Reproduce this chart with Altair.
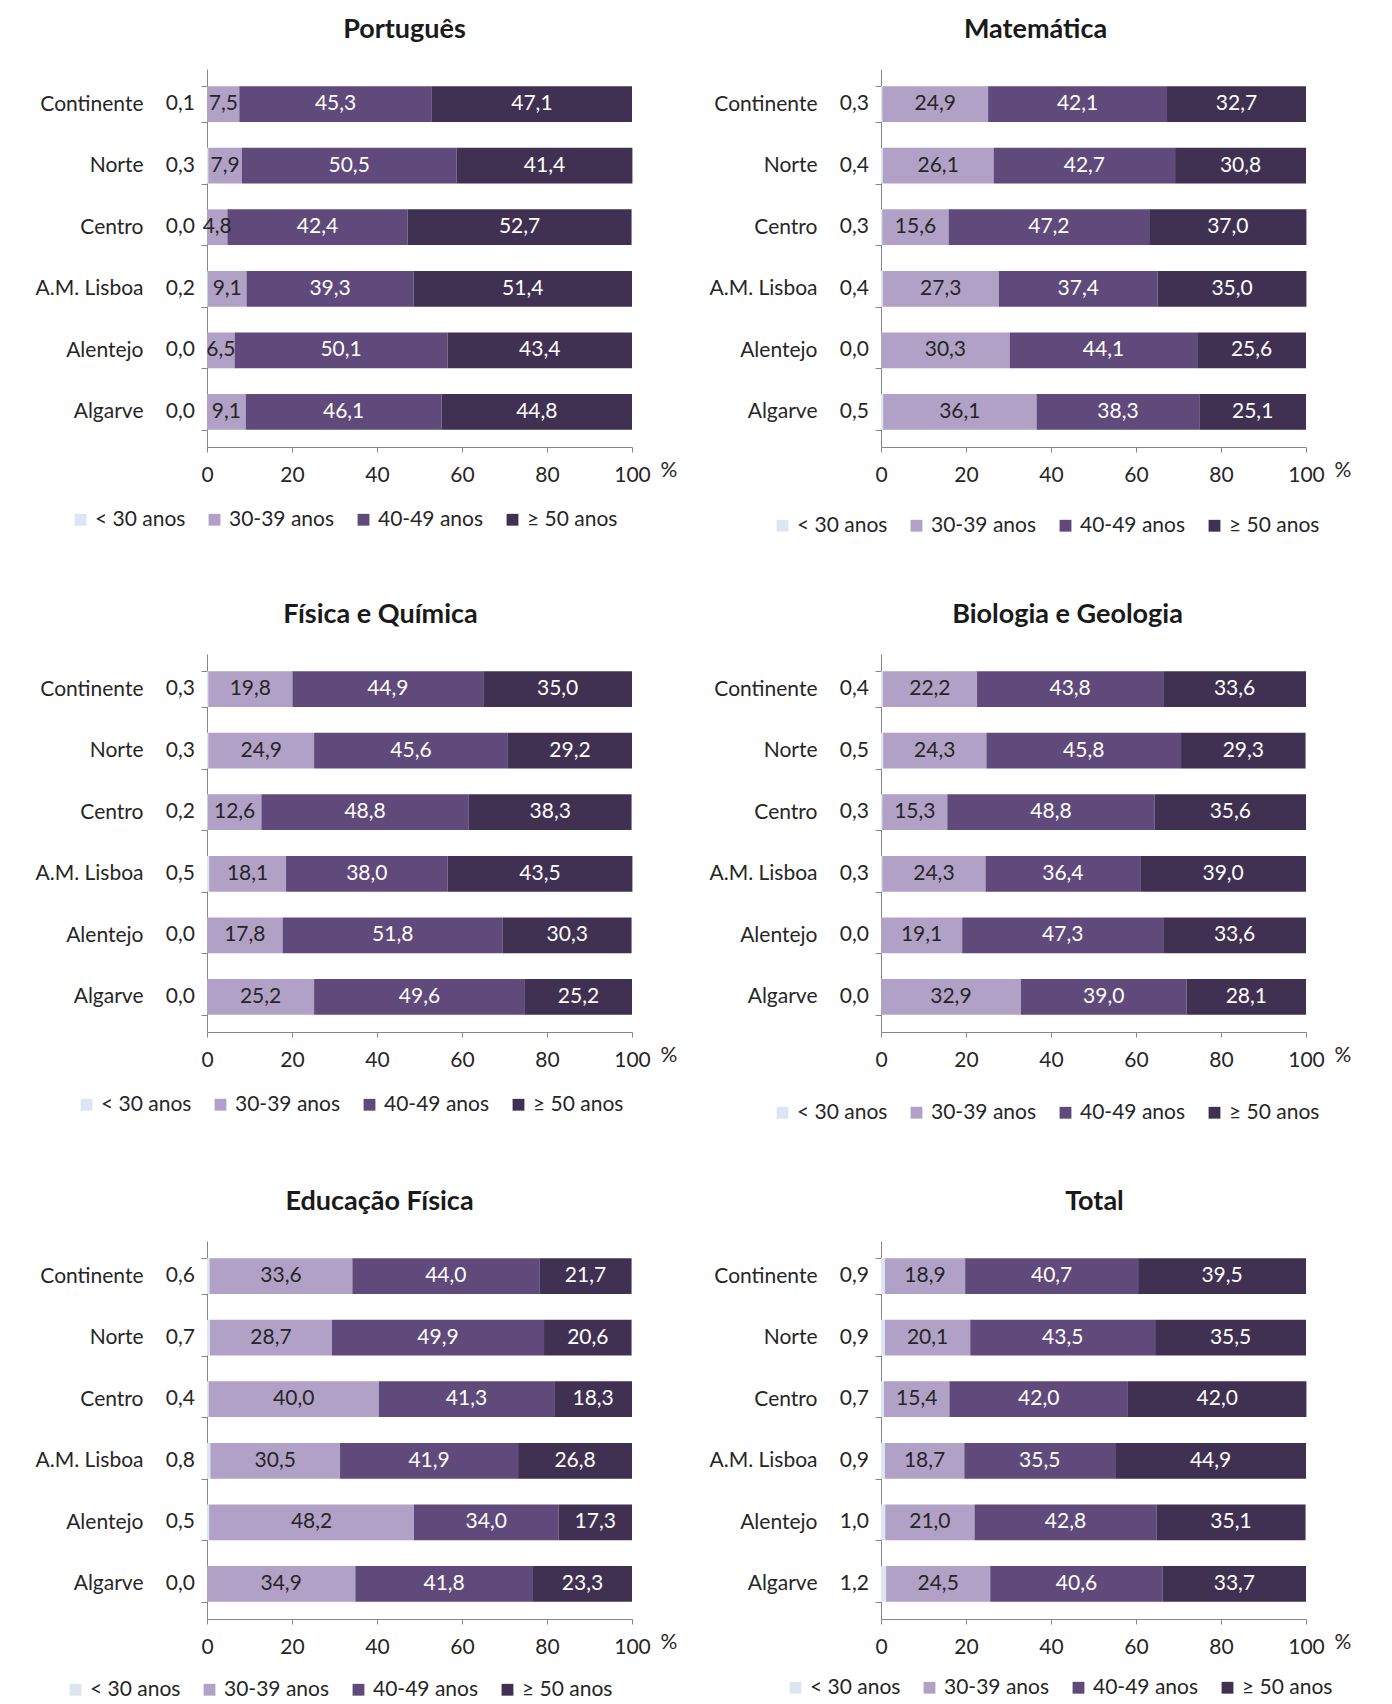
import altair as alt
import pandas as pd

FONT = "Lato"

regions = ["Continente", "Norte", "Centro", "A.M. Lisboa", "Alentejo", "Algarve"]
groups = ["< 30 anos", "30-39 anos", "40-49 anos", "≥ 50 anos"]
colors = ["#dce6f2", "#b2a1c7", "#604a7b", "#403152"]
x_ticks = [0, 20, 40, 60, 80, 100]

port_lt30 = [0.1, 0.3, 0.0, 0.2, 0.0, 0.0]
port_3039 = [7.5, 7.9, 4.8, 9.1, 6.5, 9.1]
port_4049 = [45.3, 50.5, 42.4, 39.3, 50.1, 46.1]
port_50 = [47.1, 41.4, 52.7, 51.4, 43.4, 44.8]

mat_lt30 = [0.3, 0.4, 0.3, 0.4, 0.0, 0.5]
mat_3039 = [24.9, 26.1, 15.6, 27.3, 30.3, 36.1]
mat_4049 = [42.1, 42.7, 47.2, 37.4, 44.1, 38.3]
mat_50 = [32.7, 30.8, 37.0, 35.0, 25.6, 25.1]

fq_lt30 = [0.3, 0.3, 0.2, 0.5, 0.0, 0.0]
fq_3039 = [19.8, 24.9, 12.6, 18.1, 17.8, 25.2]
fq_4049 = [44.9, 45.6, 48.8, 38.0, 51.8, 49.6]
fq_50 = [35.0, 29.2, 38.3, 43.5, 30.3, 25.2]

bg_lt30 = [0.4, 0.5, 0.3, 0.3, 0.0, 0.0]
bg_3039 = [22.2, 24.3, 15.3, 24.3, 19.1, 32.9]
bg_4049 = [43.8, 45.8, 48.8, 36.4, 47.3, 39.0]
bg_50 = [33.6, 29.3, 35.6, 39.0, 33.6, 28.1]

ef_lt30 = [0.6, 0.7, 0.4, 0.8, 0.5, 0.0]
ef_3039 = [33.6, 28.7, 40.0, 30.5, 48.2, 34.9]
ef_4049 = [44.0, 49.9, 41.3, 41.9, 34.0, 41.8]
ef_50 = [21.7, 20.6, 18.3, 26.8, 17.3, 23.3]

tot_lt30 = [0.9, 0.9, 0.7, 0.9, 1.0, 1.2]
tot_3039 = [18.9, 20.1, 15.4, 18.7, 21.0, 24.5]
tot_4049 = [40.7, 43.5, 42.0, 35.5, 42.8, 40.6]
tot_50 = [39.5, 35.5, 42.0, 44.9, 35.1, 33.7]

W = 425
H = 378
FS = 21


def panel(name, series, title_dx, legend_x, legend_y):
    rows = []
    for i, r in enumerate(regions):
        for k, g in enumerate(groups):
            rows.append({"region": r, "group": g, "order": k, "value": series[k][i]})
    df = pd.DataFrame(rows)
    base = alt.Chart(df).transform_calculate(
        label="replace(format(datum.value, '.1f'), '.', ',')"
    )
    x_axis = alt.Axis(
        values=x_ticks, format="d", grid=False, labelFontSize=FS, labelFont=FONT,
        labelColor="#262626", labelPadding=12, tickSize=5, tickColor="#868686",
        domainColor="#868686", labelFlush=False,
        title="%", titleX=W + 28, titleY=12, titleAlign="left", titleBaseline="top",
        titleAngle=0, titleFontWeight="normal", titleFontSize=FS, titleFont=FONT,
        titleColor="#262626",
    )
    y_enc = alt.Y(
        "region:N", sort=regions, title=None,
        scale=alt.Scale(paddingInner=0.42, paddingOuter=0.28),
        axis=alt.Axis(
            labelFontSize=FS, labelFont=FONT, labelColor="#262626", labelPadding=58,
            domainColor="#868686", tickColor="#868686", tickBand="extent", tickSize=6,
            grid=False,
        ),
    )
    bars = base.mark_bar().encode(
        x=alt.X("value:Q", stack="zero", scale=alt.Scale(domain=[0, 100]), axis=x_axis),
        y=y_enc,
        color=alt.Color(
            "group:N", sort=groups, scale=alt.Scale(domain=groups, range=colors),
            legend=alt.Legend(
                title=None, orient="none", legendX=legend_x, legendY=legend_y,
                direction="horizontal", symbolType="square", symbolSize=140,
                symbolStrokeWidth=0, labelFontSize=FS, labelFont=FONT,
                labelColor="#262626", columnPadding=18, labelOffset=4,
            ),
        ),
        order=alt.Order("order:Q"),
    )
    seg = (
        base.transform_stack(
            stack="value", groupby=["region"], as_=["v0", "v1"],
            sort=[alt.SortField("order")],
        )
        .transform_calculate(mid="(datum.v0 + datum.v1) / 2")
        .transform_filter("datum.group != '< 30 anos'")
    )
    text = seg.mark_text(fontSize=FS, font=FONT).encode(
        x=alt.X("mid:Q", scale=alt.Scale(domain=[0, 100]), axis=x_axis),
        y=alt.Y("region:N", sort=regions),
        text="label:N",
        color=alt.condition(
            alt.datum.group == "30-39 anos", alt.value("#262626"), alt.value("white")
        ),
    )
    small = (
        base.transform_filter("datum.group == '< 30 anos'")
        .mark_text(align="right", dx=-12, fontSize=FS, font=FONT, color="#262626")
        .encode(x=alt.value(0), y=alt.Y("region:N", sort=regions), text="label:N")
    )
    return alt.layer(bars, text, small).properties(
        width=W, height=H,
        title=alt.TitleParams(
            text=name, fontSize=27, font=FONT, fontWeight="bold", color="#1a1a1a",
            anchor="middle", frame="group", dx=title_dx, offset=14,
        ),
    )


p1 = panel("Português", [port_lt30, port_3039, port_4049, port_50], -15, -137, H + 62)
p2 = panel("Matemática", [mat_lt30, mat_3039, mat_4049, mat_50], -58, -109, H + 68)
p3 = panel("Física e Química", [fq_lt30, fq_3039, fq_4049, fq_50], -39, -131, H + 62)
p4 = panel("Biologia e Geologia", [bg_lt30, bg_3039, bg_4049, bg_50], -26, -109, H + 70)
p5 = panel("Educação Física", [ef_lt30, ef_3039, ef_4049, ef_50], -40, -142, H + 60)
p6 = panel("Total", [tot_lt30, tot_3039, tot_4049, tot_50], 1, -96, H + 58)


def row(a, b):
    return alt.hconcat(a, b, spacing=31).resolve_scale(color="independent")


chart = (
    alt.vconcat(row(p1, p2), row(p3, p4), row(p5, p6), spacing=65)
    .resolve_scale(color="independent")
    .properties(
        padding={"left": 26, "top": 8, "right": 5, "bottom": 5},
        background="white",
    )
    .configure_view(strokeWidth=0)
)

chart.save("out.html", embed_options={"renderer": "svg", "actions": False})
